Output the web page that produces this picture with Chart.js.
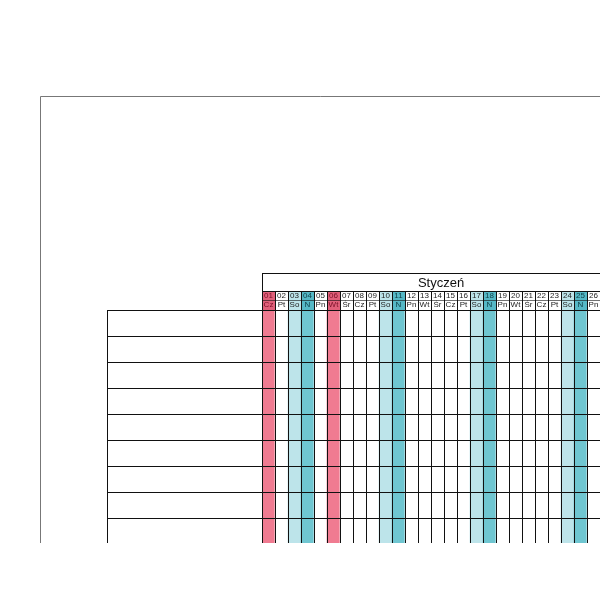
<!DOCTYPE html>
<html>
<head>
<meta charset="utf-8">
<style>
  html, body { margin: 0; padding: 0; background: #fff; }
  #wrap { width: 600px; height: 600px; position: relative; }
</style>
<script src="https://cdn.jsdelivr.net/npm/chart.js@4"></script>
</head>
<body>
<div id="wrap"><canvas id="cal" width="600" height="600"></canvas></div>
<script>
// --- Data ---
const monthTitle = 'Styczeń';
const days = ['01','02','03','04','05','06','07','08','09','10','11','12','13',
              '14','15','16','17','18','19','20','21','22','23','24','25','26'];
const weekdays = ['Cz','Pt','So','N','Pn','Wt','Śr','Cz','Pt','So','N','Pn','Wt',
                  'Śr','Cz','Pt','So','N','Pn','Wt','Śr','Cz','Pt','So','N','Pn'];
// h = holiday, s = saturday, n = sunday, w = workday
const dayTypes = ['h','w','s','n','w','h','w','w','w','s','n','w','w',
                  'w','w','w','s','n','w','w','w','w','w','s','n','w'];
const rowCount = 9;

const fills = { h: '#f07b91', s: '#bde4ea', n: '#6fc6d1', w: '#ffffff' };
const headFills = { h: '#e0607a', s: '#bde4ea', n: '#55b8c6', w: '#ffffff' };
const headText = { h: '#7a1028', s: '#222', n: '#0d3d45', w: '#222' };

// --- Grid / header drawn around the chart area ---
const calendarFrame = {
    id: 'calendarFrame',
    afterDraw(chart) {
        const { ctx, chartArea, scales } = chart;
        const x = scales.x, y = scales.y;
        const left = chartArea.left, right = chartArea.right;
        const top = chartArea.top, bottom = chartArea.bottom;
        const colW = x.getPixelForValue(1) - x.getPixelForValue(0);
        const rowH = y.getPixelForValue(1) - y.getPixelForValue(0);
        ctx.save();

        // header rows
        const dateTop = top - 19, dayTop = top - 10, titleTop = top - 37;
        days.forEach((d, i) => {
            const cx = x.getPixelForValue(i);
            const x0 = cx - colW / 2;
            const t = dayTypes[i];
            ctx.fillStyle = headFills[t];
            ctx.fillRect(x0, dateTop, colW, 19);
            ctx.fillStyle = headText[t];
            ctx.font = '8px "Liberation Sans", Arial';
            ctx.textAlign = 'center';
            ctx.textBaseline = 'middle';
            ctx.fillText(d, cx, dateTop + 5);
            ctx.fillText(weekdays[i], cx, dayTop + 5);
        });

        ctx.strokeStyle = '#111';
        ctx.lineWidth = 1;
        // title box
        ctx.strokeRect(left + 0.5, titleTop + 0.5, right - left + 10, 18);
        ctx.fillStyle = '#111';
        ctx.font = '13px "Liberation Sans", Arial';
        ctx.textAlign = 'center';
        ctx.fillText(monthTitle, (left + 600 + 0) / 2 + 10, titleTop + 10);

        // column lines
        for (let i = 0; i <= days.length; i++) {
            const px = Math.round(x.getPixelForValue(i) - colW / 2) + 0.5;
            ctx.beginPath();
            ctx.moveTo(px, dateTop);
            ctx.lineTo(px, bottom);
            ctx.stroke();
        }
        // header separators
        [dateTop, dayTop].forEach(py => {
            ctx.beginPath();
            ctx.lineWidth = 0.6;
            ctx.moveTo(left, Math.round(py) + 0.5);
            ctx.lineTo(right, Math.round(py) + 0.5);
            ctx.stroke();
        });
        ctx.lineWidth = 1;

        // row lines, including name boxes
        const nameLeft = 107;
        for (let r = 0; r <= rowCount; r++) {
            const py = Math.round(y.getPixelForValue(r)) + 0.5;
            ctx.beginPath();
            ctx.moveTo(nameLeft, py);
            ctx.lineTo(right, py);
            ctx.stroke();
        }
        ctx.beginPath();
        ctx.moveTo(nameLeft + 0.5, top);
        ctx.lineTo(nameLeft + 0.5, bottom);
        ctx.stroke();

        // outer page border
        ctx.strokeStyle = '#777';
        ctx.beginPath();
        ctx.moveTo(40.5, 543);
        ctx.lineTo(40.5, 96.5);
        ctx.lineTo(600, 96.5);
        ctx.stroke();

        // picture is cut off at the bottom
        ctx.fillStyle = '#fff';
        ctx.fillRect(0, 543, 600, 57);
        ctx.restore();
    }
};

new Chart(document.getElementById('cal'), {
    type: 'bar',
    data: {
        labels: days,
        datasets: [{
            data: days.map(() => [0, rowCount]),
            backgroundColor: dayTypes.map(t => fills[t]),
            borderWidth: 0,
            barPercentage: 1,
            categoryPercentage: 1
        }]
    },
    options: {
        responsive: false,
        animation: false,
        layout: { padding: { left: 262, top: 310, right: 0, bottom: 56 } },
        plugins: { legend: { display: false }, tooltip: { enabled: false } },
        scales: {
            x: { display: false },
            y: { display: false, min: 0, max: rowCount, reverse: true }
        }
    },
    plugins: [calendarFrame]
});
</script>
</body>
</html>
